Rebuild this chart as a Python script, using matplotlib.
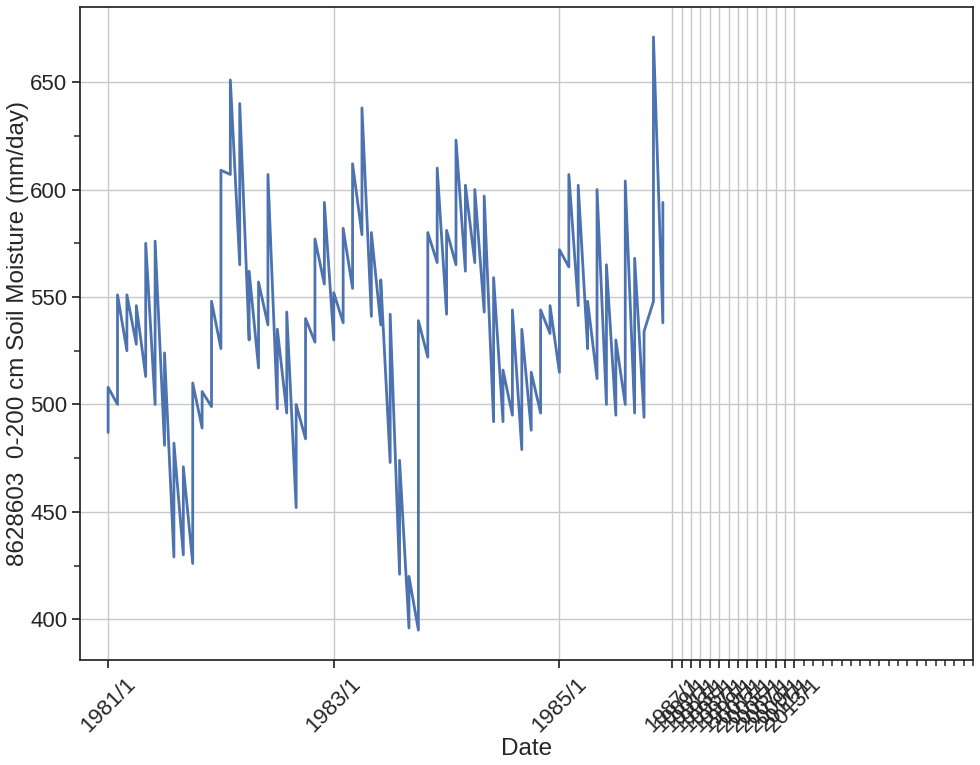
import numpy as np
import matplotlib
matplotlib.use('Agg')
import matplotlib.pyplot as plt
import seaborn as sns

# ── Data: monthly soil moisture, value arriving at / leaving each month ──────
MONTH_IN = [487, 500, 525, 528, 513, 500, 481, 429, 430, 426, 489, 499,
            526, 607, 565, 530, 517, 537, 498, 496, 452, 484, 529, 556,
            530, 538, 554, 579, 541, 537, 473, 421, 396, 395, 522, 566,
            542, 565, 562, 566, 543, 492, 492, 495, 479, 488, 496, 533,
            515, 564, 546, 526, 512, 500, 495, 500, 496, 494, 548, 538]
MONTH_OUT = [508, 551, 551, 546, 575, 576, 524, 482, 471, 510, 506, 548,
             609, 651, 640, 562, 557, 607, 535, 543, 500, 540, 577, 594,
             552, 582, 612, 638, 580, 558, 542, 474, 420, 539, 580, 610,
             581, 623, 602, 600, 597, 559, 516, 544, 535, 515, 544, 546,
             572, 607, 602, 548, 600, 565, 530, 604, 568, 534, 671, 594]

TICK_POS = [0, 24, 48] + list(range(60, 74))
TICK_LABELS = ['1981/1', '1983/1', '1985/1'] + [f'{y}/1' for y in range(1987, 2015, 2)]
MINOR_POS = list(range(74, 93))

# ── Style ─────────────────────────────────────────────────────────────────────
sns.set_style('ticks')
plt.rcParams['font.family'] = ['Liberation Sans', 'DejaVu Sans']

fig = plt.figure(figsize=(9.8, 7.65), dpi=100)
ax = fig.add_axes([0.082, 0.137, 0.911, 0.854])

idx = np.arange(len(MONTH_IN))
xs = np.repeat(idx, 2)
ys = np.column_stack([MONTH_IN, MONTH_OUT]).ravel()
ax.plot(xs, ys, color='#4C72B0', linewidth=2)

ax.set_xlim(-2.95, 92)
ax.set_ylim(381, 685)
ax.set_xticks(TICK_POS)
ax.set_xticklabels(TICK_LABELS, rotation=45)
ax.set_xticks(MINOR_POS, minor=True)
ax.set_yticks([400, 450, 500, 550, 600, 650])
ax.set_yticks([425, 475, 525, 575, 625], minor=True)

ax.grid(True, which='major', color='#c8c8c8', linewidth=1)
ax.tick_params(axis='both', which='major', labelsize=16, length=6, width=1.25,
               labelcolor='#262626')
ax.tick_params(axis='both', which='minor', length=4, width=1.1)
for s in ax.spines.values():
    s.set_linewidth(1.25)
    s.set_color('#262626')

ax.set_xlabel('Date', fontsize=17.5, color='#262626', labelpad=1)
ax.set_ylabel('8628603  0-200 cm Soil Moisture (mm/day)', fontsize=17.5,
              color='#262626', labelpad=1)

fig.savefig('out.png', dpi=100)
